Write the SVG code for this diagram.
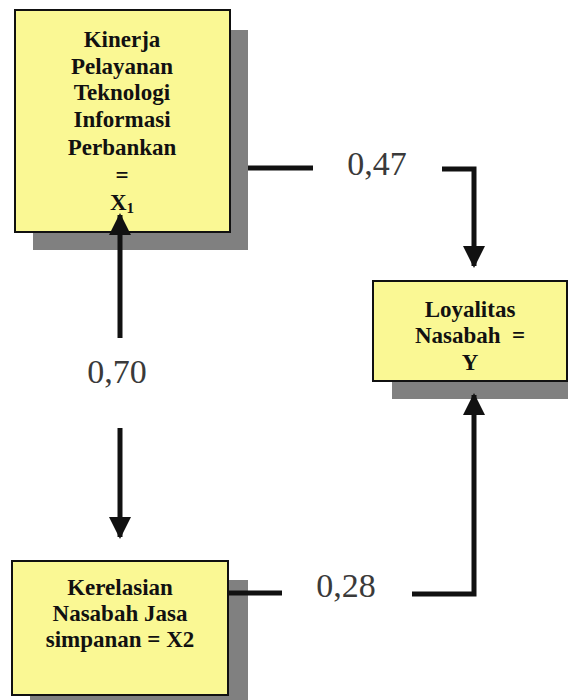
<svg xmlns="http://www.w3.org/2000/svg" width="568" height="700" viewBox="0 0 568 700">
  <style>
    .shadow { fill: #808080; }
    .box { fill: #FAF894; stroke: #111; stroke-width: 2; }
    .lbl { font-weight: bold; font-size: 23px; fill: #111; text-anchor: middle; }
    .coef { font-size: 34px; fill: #3a3a3a; text-anchor: middle; }
    .wire { fill: none; stroke: #111; stroke-width: 5; }
  </style>
  <defs>
    <marker id="arrow" markerUnits="userSpaceOnUse" markerWidth="24" markerHeight="22" viewBox="0 0 22 22" refX="20" refY="11" orient="auto">
      <path d="M0,0 L22,11 L0,22 Z" fill="#111"/>
    </marker>
  </defs>

  <rect width="568" height="700" fill="#ffffff"/>

  <g font-family="Liberation Serif, DejaVu Serif, serif">
  <!-- X1 -->
  <g id="node-x1">
    <rect class="shadow" x="33" y="30" width="215" height="220"/>
    <rect class="box" x="15" y="10" width="215" height="222"/>
    <text class="lbl" x="122" y="47">Kinerja</text>
    <text class="lbl" x="122" y="74">Pelayanan</text>
    <text class="lbl" x="122" y="100">Teknologi</text>
    <text class="lbl" x="122" y="127">Informasi</text>
    <text class="lbl" x="122" y="155">Perbankan</text>
    <text class="lbl" x="122" y="183">=</text>
    <text class="lbl" x="122" y="210">X<tspan font-size="15" dy="3">1</tspan></text>
  </g>

  <!-- Y -->
  <g id="node-y">
    <rect class="shadow" x="392" y="299" width="190" height="100"/>
    <rect class="box" x="373" y="281" width="194" height="100"/>
    <text class="lbl" x="470" y="317">Loyalitas</text>
    <text class="lbl" x="470" y="343" xml:space="preserve">Nasabah  =</text>
    <text class="lbl" x="470" y="370">Y</text>
  </g>

  <!-- X2 -->
  <g id="node-x2">
    <rect class="shadow" x="30" y="580" width="218" height="134"/>
    <rect class="box" x="12" y="561" width="216" height="134"/>
    <text class="lbl" x="120" y="595">Kerelasian</text>
    <text class="lbl" x="120" y="621">Nasabah Jasa</text>
    <text class="lbl" x="120" y="647">simpanan = X2</text>
  </g>

  <!-- connectors -->
  <g id="connectors">
    <!-- X1 to Y -->
    <line class="wire" x1="248" y1="168" x2="313" y2="168"/>
    <path class="wire" d="M442,169 H474 V266" marker-end="url(#arrow)"/>
    <!-- X1 and X2 -->
    <line class="wire" x1="120" y1="338" x2="120" y2="215" marker-end="url(#arrow)"/>
    <line class="wire" x1="120" y1="428" x2="120" y2="537" marker-end="url(#arrow)"/>
    <!-- X2 to Y -->
    <line class="wire" x1="228" y1="593" x2="282" y2="593"/>
    <path class="wire" d="M412,594 H474 V395" marker-end="url(#arrow)"/>
  </g>

  <!-- path coefficients -->
  <g id="coefficients">
    <text class="coef" x="377" y="175">0,47</text>
    <text class="coef" x="117" y="383">0,70</text>
    <text class="coef" x="346" y="597">0,28</text>
  </g>
  </g>
</svg>
